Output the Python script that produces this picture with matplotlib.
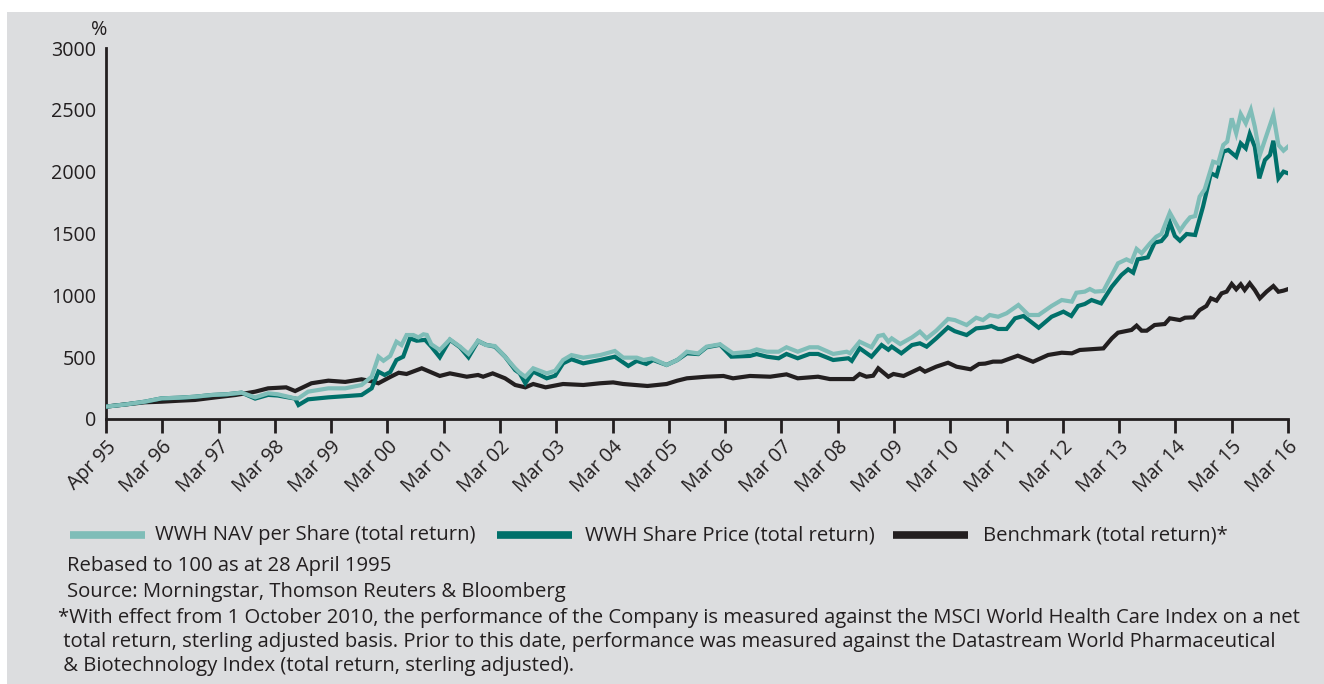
import matplotlib
matplotlib.use("Agg")
import matplotlib.pyplot as plt
from matplotlib.patches import Rectangle
from matplotlib.lines import Line2D

# ---------------- data (years since Apr 95, rebased %) ----------------
tick_labels = ["Apr 95", "Mar 96", "Mar 97", "Mar 98", "Mar 99", "Mar 00", "Mar 01",
               "Mar 02", "Mar 03", "Mar 04", "Mar 05", "Mar 06", "Mar 07", "Mar 08",
               "Mar 09", "Mar 10", "Mar 11", "Mar 12", "Mar 13", "Mar 14", "Mar 15", "Mar 16"]
y_ticks = [0, 500, 1000, 1500, 2000, 2500, 3000]

t_nav = [0.00, 0.35, 0.69, 0.99, 1.30, 1.58, 1.88, 2.15, 2.41, 2.65, 2.88, 3.05, 3.36, 3.42,
         3.59, 3.95, 4.25, 4.54, 4.72, 4.84, 4.93, 5.05, 5.16, 5.25, 5.34, 5.46, 5.55, 5.64,
         5.70, 5.78, 5.93, 6.11, 6.29, 6.44, 6.61, 6.75, 6.91, 7.09, 7.27, 7.35, 7.45, 7.59,
         7.83, 7.98, 8.12, 8.27, 8.48, 8.78, 9.04, 9.19, 9.43, 9.55, 9.70, 9.96, 10.15, 10.32,
         10.52, 10.67, 10.91, 11.14, 11.44, 11.56, 11.74, 11.95, 12.09, 12.29, 12.50, 12.65,
         12.92, 13.16, 13.22, 13.39, 13.60, 13.72, 13.81, 13.90, 13.96, 14.11, 14.32, 14.46,
         14.58, 14.75, 14.96, 15.08, 15.29, 15.46, 15.58, 15.70, 15.85, 16.00, 16.21, 16.39,
         16.57, 16.80, 16.98, 17.16, 17.24, 17.39, 17.48, 17.57, 17.72, 17.84, 17.98, 18.13,
         18.22, 18.31, 18.40, 18.55, 18.66, 18.75, 18.90, 19.08, 19.17, 19.26, 19.35, 19.43,
         19.52, 19.67, 19.76, 19.85, 19.92, 20.00, 20.08, 20.16, 20.25, 20.34, 20.41, 20.50,
         20.74, 20.83, 20.92, 21.00]
nav = [100, 118, 140, 167, 172, 180, 194, 200, 213, 175, 208, 200, 167, 167,
       221, 248, 248, 275, 342, 504, 471, 510, 625, 598, 679, 679, 660, 685,
       680, 604, 558, 644, 585, 526, 633, 598, 590, 504, 410, 374, 342, 410,
       369, 390, 477, 517, 496, 517, 550, 496, 496, 477, 490, 437, 477, 544,
       530, 585, 604, 531, 544, 563, 544, 544, 580, 544, 580, 580,
       526, 544, 531, 625, 580, 671, 680, 625, 652, 606, 660, 706,
       652, 714, 809, 800, 760, 819, 800, 841, 827, 855, 922, 841,
       841, 914, 962, 949, 1021, 1030, 1051, 1030, 1035, 1138, 1259, 1291,
       1272, 1375, 1340, 1421, 1474, 1496, 1668, 1523, 1582, 1631, 1641, 1798,
       1857, 2081, 2068, 2216, 2243, 2431, 2310, 2466, 2391, 2499, 2364, 2135,
       2458, 2216, 2170, 2202]

t_price = [0.00, 0.35, 0.69, 0.99, 1.30, 1.58, 1.88, 2.15, 2.41, 2.65, 2.88, 3.05, 3.36, 3.42,
           3.59, 3.95, 4.25, 4.54, 4.72, 4.84, 4.95, 5.05, 5.16, 5.28, 5.40, 5.52, 5.67, 5.78,
           5.93, 6.11, 6.29, 6.44, 6.61, 6.75, 6.91, 7.09, 7.27, 7.35, 7.45, 7.59, 7.83, 7.98,
           8.12, 8.27, 8.48, 8.78, 9.04, 9.28, 9.43, 9.60, 9.72, 9.96, 10.15, 10.32, 10.52,
           10.67, 10.91, 11.11, 11.44, 11.56, 11.74, 11.95, 12.09, 12.29, 12.50, 12.65, 12.92,
           13.19, 13.25, 13.39, 13.60, 13.78, 13.90, 13.96, 14.13, 14.32, 14.46, 14.58, 14.75,
           14.96, 15.08, 15.29, 15.46, 15.62, 15.73, 15.85, 16.00, 16.15, 16.30, 16.57, 16.80,
           17.01, 17.15, 17.27, 17.39, 17.51, 17.68, 17.87, 18.04, 18.16, 18.25, 18.33, 18.51,
           18.63, 18.75, 18.84, 18.90, 18.99, 19.08, 19.20, 19.35, 19.49, 19.63, 19.73, 19.85,
           19.94, 20.08, 20.16, 20.25, 20.32, 20.41, 20.49, 20.59, 20.68, 20.74, 20.83, 20.92,
           21.00]
price = [100, 118, 140, 167, 172, 180, 194, 200, 213, 165, 195, 190, 165, 113,
         159, 175, 185, 194, 248, 383, 356, 380, 477, 504, 652, 633, 640, 585,
         499, 640, 580, 499, 630, 600, 585, 504, 396, 370, 289, 383, 329, 350,
         450, 483, 450, 477, 504, 429, 470, 445, 477, 437, 477, 531, 525,
         580, 600, 504, 510, 525, 504, 491, 526, 491, 526, 526, 477,
         491, 470, 572, 504, 598, 560, 585, 531, 598, 612, 585, 652,
         741, 710, 679, 733, 740, 752, 728, 728, 814, 833, 738, 827,
         868, 833, 914, 930, 962, 935, 1070, 1164, 1210, 1183, 1291, 1307,
         1426, 1439, 1488, 1590, 1480, 1442, 1496, 1488, 1717, 1987, 1965, 2162,
         2175, 2121, 2229, 2189, 2305, 2202, 1946, 2094, 2135, 2250, 1946, 2000,
         1987]

t_bench = [0.00, 0.35, 0.69, 0.99, 1.30, 1.58, 1.95, 2.30, 2.65, 2.88, 3.20, 3.36, 3.65, 3.95,
           4.25, 4.54, 4.72, 4.84, 5.05, 5.20, 5.34, 5.61, 5.93, 6.11, 6.41, 6.61, 6.70, 6.87,
           7.09, 7.27, 7.45, 7.59, 7.81, 8.12, 8.48, 8.78, 9.01, 9.19, 9.62, 9.96, 10.15,
           10.32, 10.67, 10.97, 11.14, 11.44, 11.80, 12.09, 12.29, 12.65, 12.86, 13.28, 13.39,
           13.51, 13.63, 13.72, 13.90, 13.99, 14.17, 14.46, 14.55, 14.75, 14.96, 15.11, 15.36,
           15.51, 15.62, 15.76, 15.91, 16.20, 16.47, 16.74, 16.98, 17.16, 17.30, 17.72, 17.87,
           17.98, 18.22, 18.31, 18.40, 18.49, 18.63, 18.81, 18.90, 19.08, 19.17, 19.32, 19.43,
           19.55, 19.63, 19.73, 19.82, 19.91, 20.00, 20.08, 20.16, 20.23, 20.32, 20.41, 20.50,
           20.62, 20.74, 20.83, 20.92, 21.00]
bench = [100, 118, 135, 140, 148, 154, 175, 194, 221, 248, 256, 226, 289, 310,
         300, 321, 305, 289, 340, 374, 364, 410, 348, 369, 342, 356, 342, 369,
         329, 275, 256, 283, 256, 283, 275, 289, 296, 283, 267, 283, 310,
         329, 342, 348, 329, 348, 342, 361, 329, 342, 323, 323, 364,
         342, 350, 410, 342, 364, 348, 410, 383, 423, 455, 423, 402,
         445, 448, 464, 464, 512, 463, 518, 536, 531, 558, 571, 652,
         698, 720, 755, 714, 714, 760, 768, 814, 800, 819, 822, 881,
         914, 976, 957, 1016, 1030, 1092, 1049, 1089, 1043, 1097, 1043, 976,
         1030, 1075, 1029, 1038, 1050]

series_names = ["WWH NAV per Share (total return)", "WWH Share Price (total return)",
                "Benchmark (total return)*"]
footnotes = [
    "Rebased to 100 as at 28 April 1995",
    "Source: Morningstar, Thomson Reuters & Bloomberg",
]
asterisk_note = [
    "*With effect from 1 October 2010, the performance of the Company is measured against the MSCI World Health Care Index on a net",
    " total return, sterling adjusted basis. Prior to this date, performance was measured against the Datastream World Pharmaceutical",
    " & Biotechnology Index (total return, sterling adjusted).",
]

# ---------------- style ----------------
BG = "#dcdddf"
C_NAV = "#7fbdb8"
C_PRICE = "#00706a"
C_BENCH = "#231f20"
TXT = "#231f20"
plt.rcParams["font.family"] = ["Open Sans", "DejaVu Sans"]
FS = 14.6
FS_NOTE = 14.6
FS_TICK = 14.2

W, H = 1324, 684
fig = plt.figure(figsize=(W / 100, H / 100), dpi=100)
fig.patch.set_facecolor("white")
fig.patches.append(Rectangle((7 / W, 0), 1, (H - 12) / H, transform=fig.transFigure,
                             facecolor=BG, edgecolor="none", zorder=-10))


def fx(px):
    return px / W


def fy(py):
    return 1 - py / H


ax = fig.add_axes([fx(106), fy(419), fx(1288) - fx(106), fy(48) - fy(419)])
ax.set_facecolor("none")

ax.plot(t_bench, bench, color=C_BENCH, lw=3.0, solid_joinstyle="miter", zorder=3)
ax.plot(t_price, price, color=C_PRICE, lw=3.0, solid_joinstyle="miter", zorder=4)
ax.plot(t_nav, nav, color=C_NAV, lw=3.0, solid_joinstyle="miter", zorder=5)

ax.set_xlim(0, 21)
ax.set_ylim(0, 3000)
for s in ["top", "right"]:
    ax.spines[s].set_visible(False)
for s in ["left", "bottom"]:
    ax.spines[s].set_linewidth(2.0)
    ax.spines[s].set_color(C_BENCH)

ax.set_yticks(y_ticks)
ax.set_yticklabels([str(v) for v in y_ticks], fontsize=FS_TICK, color=TXT)
ax.tick_params(axis="y", length=0, pad=7)

ax.set_xticks(range(len(tick_labels)))
ax.set_xticklabels(tick_labels, rotation=45, ha="right", va="top",
                   rotation_mode="anchor", fontsize=FS_TICK, color=TXT)
ax.tick_params(axis="x", length=10, width=2.0, color=C_BENCH, pad=3, direction="out")

fig.text(fx(99), fy(30), "%", ha="center", va="center", fontsize=FS_TICK, color=TXT)

# legend (positioned manually to match the reference layout)
legend_items = [(70, 145, 155, C_NAV), (497, 572, 585, C_PRICE), (893, 968, 983, C_BENCH)]
ly = fy(535)
for (x0, x1, xt, col), name in zip(legend_items, series_names):
    fig.add_artist(Line2D([fx(x0), fx(x1)], [ly, ly], color=col, lw=5.5,
                          transform=fig.transFigure, solid_capstyle="butt"))
    fig.text(fx(xt), ly, name, ha="left", va="center", fontsize=FS, color=TXT)

y0 = 566
for i, line in enumerate(footnotes):
    fig.text(fx(67), fy(y0 + 26 * i), line, ha="left", va="center", fontsize=FS_NOTE, color=TXT)
y1 = 618
for i, line in enumerate(asterisk_note):
    fig.text(fx(58), fy(y1 + 24 * i), line, ha="left", va="center", fontsize=FS_NOTE, color=TXT)

fig.savefig("out.png", dpi=100, facecolor=fig.get_facecolor())
